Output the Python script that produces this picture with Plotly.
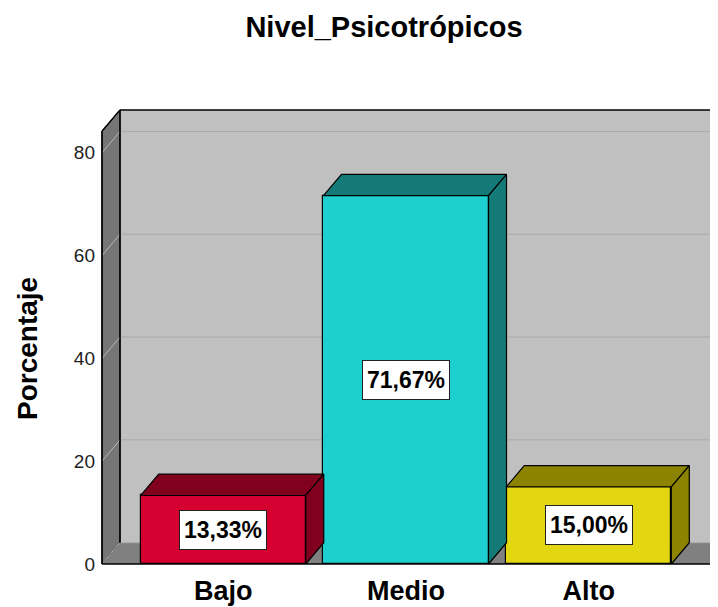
import plotly.graph_objects as go

# ---- data ----
categories = ["Bajo", "Medio", "Alto"]
percentages = [13.33, 71.67, 15.00]
y_tick_values = [0, 20, 40, 60, 80]
chart_title = "Nivel_Psicotrópicos"
y_title = "Porcentaje"

# ---- styling / geometry ----
front_colors = ["#d5002f", "#1dcfcf", "#e3d712"]
dark_colors = ["#80001d", "#137a78", "#8c8400"]
x_pos = list(range(len(categories)))
BAR_W = 0.903
DX = 0.0985      # depth offset in x units
DY = 4.15        # depth offset in y units
WALL_X = -0.6632  # front-left edge of the box
X_MIN, X_MAX = -0.6741, 2.707
Y_MIN, Y_MAX = -0.39, 89.3
WALL_TOP = 84.2
FONT = "Liberation Sans, Arial, sans-serif"
W, H = 718, 607
OFF = 8          # page body margin offset
PL, PR, PT, PB = 100 - OFF, 718 - OFF, 105 - OFF, 566 - OFF   # plot area in figure px

fig = go.Figure()
shapes = []

def poly(pts):
    return "M " + " L ".join(f"{x},{y}" for x, y in pts) + " Z"

xr_far = X_MAX + 0.3
# back wall
shapes.append(dict(type="path", xref="x", yref="y", layer="below",
                   path=poly([(WALL_X + DX, DY), (xr_far, DY), (xr_far, WALL_TOP + DY), (WALL_X + DX, WALL_TOP + DY)]),
                   fillcolor="#c0c0c0", line=dict(width=0)))
# floor
shapes.append(dict(type="path", xref="x", yref="y", layer="below",
                   path=poly([(WALL_X, 0), (xr_far, 0), (xr_far, DY), (WALL_X + DX, DY)]),
                   fillcolor="#808080", line=dict(width=0)))
# left wall
shapes.append(dict(type="path", xref="x", yref="y", layer="below",
                   path=poly([(WALL_X, 0), (WALL_X + DX, DY), (WALL_X + DX, WALL_TOP + DY), (WALL_X, WALL_TOP)]),
                   fillcolor="#767676", line=dict(color="#000000", width=1)))
# gridlines on back wall and side wall
for v in y_tick_values:
    shapes.append(dict(type="line", xref="x", yref="y", layer="below",
                       x0=WALL_X + DX, x1=xr_far, y0=v + DY, y1=v + DY,
                       line=dict(color="#a9a9a9", width=1)))
    shapes.append(dict(type="line", xref="x", yref="y", layer="below",
                       x0=WALL_X, x1=WALL_X + DX, y0=v, y1=v + DY,
                       line=dict(color="#b8b8b8", width=1)))
# box edges: wall top, back-left edge, left-wall top, front-left edge, floor front edge
edges = [
    ((WALL_X + DX, WALL_TOP + DY), (xr_far, WALL_TOP + DY)),
    ((WALL_X + DX, DY), (WALL_X + DX, WALL_TOP + DY)),
    ((WALL_X, WALL_TOP), (WALL_X + DX, WALL_TOP + DY)),
    ((WALL_X, 0), (WALL_X, WALL_TOP)),
    ((WALL_X, 0), (xr_far, 0)),
]
for (ax, ay), (bx, by) in edges:
    shapes.append(dict(type="line", xref="x", yref="y", layer="below",
                       x0=ax, y0=ay, x1=bx, y1=by, line=dict(color="#000000", width=1.5)))

# bars: front faces
fig.add_trace(go.Bar(x=x_pos, y=percentages, width=BAR_W,
                     marker=dict(color=front_colors, line=dict(color="#000000", width=1.2)),
                     hoverinfo="skip", showlegend=False))

# 3D top and side faces
for xc, v, dc in zip(x_pos, percentages, dark_colors):
    xl, xr = xc - BAR_W / 2, xc + BAR_W / 2
    top = [(xl, v), (xr, v), (xr + DX, v + DY), (xl + DX, v + DY), (xl, v)]
    side = [(xr, 0), (xr + DX, DY), (xr + DX, v + DY), (xr, v), (xr, 0)]
    for pts in (top, side):
        fig.add_trace(go.Scatter(x=[p[0] for p in pts], y=[p[1] for p in pts],
                                 mode="lines", fill="toself", fillcolor=dc,
                                 line=dict(color="#000000", width=1.2),
                                 hoverinfo="skip", showlegend=False))

# value labels
annotations = []
for xc, v in zip(x_pos, percentages):
    annotations.append(dict(x=xc, y=v / 2, xref="x", yref="y", showarrow=False,
                            text=f"<b>{v:.2f}%</b>".replace(".", ","),
                            font=dict(family=FONT, size=23, color="#000000"),
                            width=80, height=32,
                            bgcolor="#ffffff", bordercolor="#222222", borderwidth=1, borderpad=3))
pw, ph = PR - PL, PB - PT
annotations.append(dict(x=(27 - OFF - PL) / pw, y=(PB - (349 - OFF)) / ph, xref="paper", yref="paper",
                        showarrow=False, xanchor="center", yanchor="middle",
                        text=f"<b>{y_title}</b>", textangle=-90,
                        font=dict(family=FONT, size=28, color="#000000")))

fig.update_layout(
    width=W, height=H,
    margin=dict(l=PL, r=W - PR, t=PT, b=H - PB, autoexpand=False),
    paper_bgcolor="#ffffff", plot_bgcolor="#ffffff",
    title=dict(text=f"<b>{chart_title}</b>", x=(384 - OFF) / W, xref="container", xanchor="center",
               y=1 - (27 - OFF) / H, yref="container", yanchor="middle",
               font=dict(family=FONT, size=29, color="#000000")),
    shapes=shapes, annotations=annotations,
    xaxis=dict(range=[X_MIN, X_MAX], tickvals=x_pos, ticktext=[f"<b>{c}</b>" for c in categories],
               showgrid=False, zeroline=False, showline=False,
               ticks="", ticklabelstandoff=6, automargin=False,
               tickfont=dict(family=FONT, size=27, color="#000000")),
    yaxis=dict(range=[Y_MIN, Y_MAX], tickvals=y_tick_values, showgrid=False, zeroline=False,
               showline=False, ticks="", ticklabelstandoff=4,
               automargin=False,
               tickfont=dict(family=FONT, size=19, color="#222222")),
    bargap=0,
)

fig.write_html("out.html")
